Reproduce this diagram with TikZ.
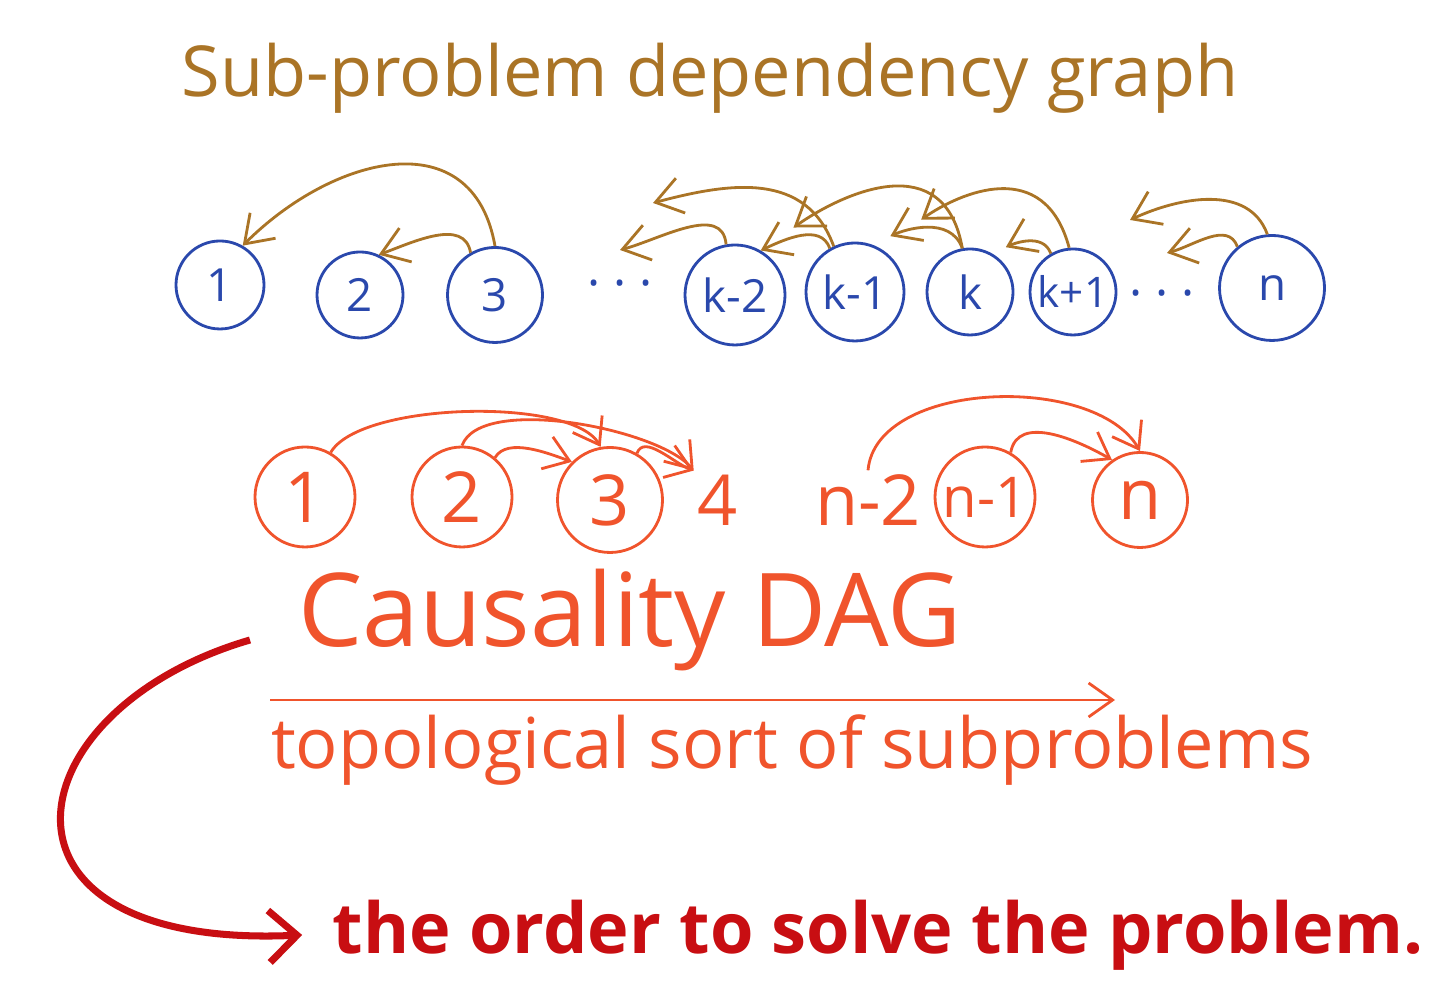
\documentclass[tikz,border=0pt]{standalone}
\usepackage{fontspec}
\setmainfont{Open Sans}
\usetikzlibrary{positioning,arrows.meta}
\definecolor{ink}{RGB}{42,72,172}
\definecolor{dep}{RGB}{170,116,38}
\definecolor{dag}{RGB}{240,84,44}
\definecolor{order}{RGB}{200,14,18}
\tikzset{
  head/.style={text=dep, font=\fontsize{20}{24}\selectfont},
  sub/.style={draw=ink, thick, circle, inner sep=0pt, minimum size=0.86cm,
              text=ink, font=\fontsize{13}{15}\selectfont},
  dots/.style={text=ink, font=\fontsize{14}{16}\selectfont},
  cau/.style={draw=dag, thick, circle, inner sep=0pt, minimum size=1.0cm,
              text=dag, font=\fontsize{20}{22}\selectfont},
  loose/.style={text=dag, inner sep=1pt, font=\fontsize{20}{22}\selectfont},
  big/.style={text=dag, font=\fontsize{29}{34}\selectfont},
  mid/.style={text=dag, font=\fontsize{20}{24}\selectfont},
  last/.style={text=order, inner sep=0.3cm, font=\fontsize{20}{24}\selectfont\bfseries},
  darr/.style={-{Straight Barb[length=2.6mm,width=3.6mm]}, thick, draw=dep},
  carr/.style={-{Straight Barb[length=2.4mm,width=3.4mm]}, thick, draw=dag},
  oarr/.style={-{Straight Barb[length=2.8mm,width=5.2mm]}, line width=2pt, draw=order},
}
\begin{document}
\begin{tikzpicture}
  \useasboundingbox (0,0) rectangle (14.5,10);

  \node[head] (title) at (7.1,9.22) {Sub-problem dependency graph};

  % sub-problems
  \node[sub, minimum size=0.88cm] (t1) at (2.2,7.15) {1};
  \node[sub] (t2) at (3.6,7.05) {2};
  \node[sub, minimum size=0.95cm] (t3) at (4.95,7.05) {3};
  \node[dots] (d1) at (6.2,7.1) {· · ·};
  \node[sub, minimum size=1.0cm] (tk2) at (7.35,7.05) {k-2};
  \node[sub, minimum size=0.98cm] (tk1) at (8.55,7.08) {k-1};
  \node[sub] (tk) at (9.7,7.08) {k};
  \node[sub, font=\fontsize{12}{14}\selectfont] (tkp) at (10.73,7.08) {k+1};
  \node[dots] (d2) at (11.62,7.0) {· · ·};
  \node[sub, minimum size=1.05cm] (tn) at (12.72,7.12) {n};
  \coordinate (km3) at (6.2,7.5);
  \coordinate (km4) at (6.53,7.97);
  \coordinate (nm2) at (11.3,7.8);
  \coordinate (nm1) at (11.67,7.47);

  \draw[darr] (t3.90) to[out=100,in=45,looseness=1.3] (t1.60);
  \draw[darr] (t3.120) to[out=100,in=20] (t2.65);
  \draw[darr] (tk2.100) to[out=95,in=15] (km3);
  \draw[darr] (tk1.115) to[out=110,in=15,looseness=1.1] (km4);
  \draw[darr] (tk1.120) to[out=110,in=25] (tk2.60);
  \draw[darr, shorten >=0.4cm] (tk.100) to[out=100,in=35,looseness=1.3] (tk2.60);
  \draw[darr, shorten >=0.2cm] (tk.100) to[out=110,in=25] (tk1.70);
  \draw[darr, shorten >=0.5cm] (tkp.95) to[out=105,in=35,looseness=1.3] (tk1.60);
  \draw[darr, shorten >=0.15cm] (tkp.120) to[out=110,in=25] (tk.60);
  \draw[darr] (tn.95) to[out=110,in=25] (nm2);
  \draw[darr] (tn.130) to[out=110,in=15] (nm1);

  % causality DAG
  \node[cau] (b1) at (3.05,5.03) {1};
  \node[cau] (b2) at (4.62,5.03) {2};
  \node[cau, minimum size=1.05cm] (b3) at (6.1,5.0) {3};
  \node[loose] (b4) at (7.18,5.0) {4};
  \node[loose] (bn2) at (8.68,5.0) {n-2};
  \node[cau, font=\fontsize{16}{18}\selectfont] (bn1) at (9.85,5.03) {n-1};
  \node[cau, minimum size=0.95cm] (bn) at (11.4,5.0) {n};

  \draw[carr] (b1.60) to[out=60,in=120,looseness=0.55] (b3.100);
  \draw[carr] (b2.90) to[out=70,in=130,looseness=0.6] (b4.north west);
  \draw[carr] (b2.50) to[out=60,in=160,looseness=0.8] (b3.135);
  \draw[carr] (b3.60) to[out=70,in=160,looseness=0.9] (b4.north west);
  \draw[carr] (bn2.north) to[out=85,in=120,looseness=0.85] (bn.north);
  \draw[carr] (bn1.60) to[out=80,in=150] (bn.125);

  \node[big] (caus) at (6.3,3.8) {Causality DAG};
  \coordinate (srt0) at (2.7,3.0);
  \coordinate (srt1) at (11.15,3.0);
  \draw[carr] (srt0) -- (srt1);
  \node[mid] (topo) at (7.92,2.5) {topological sort of subproblems};

  \node[last] (ord) at (8.78,0.65) {the order to solve the problem.};
  \coordinate (hook) at (2.5,3.6);
  \draw[oarr] (hook) .. controls (0.1,2.9) and (-0.3,0.5) .. (ord.west);
\end{tikzpicture}
\end{document}
